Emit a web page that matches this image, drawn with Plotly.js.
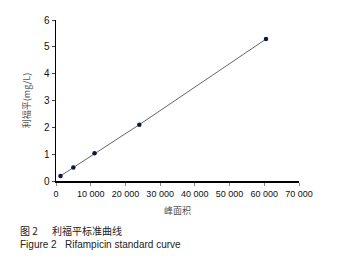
<!DOCTYPE html>
<html>
<head>
<meta charset="utf-8">
<script src="https://cdn.plot.ly/plotly-3.0.1.min.js"></script>
<style>html,body{margin:0;padding:0;background:#fff;}#chart{width:339px;height:266px;}</style>
</head>
<body>
<div id="chart"></div>
<script>
// Data
const peakArea = [1300, 5000, 11100, 24000, 60500];
const concentration = [0.19, 0.50, 1.03, 2.10, 5.29];
const xTickVals = [0, 10000, 20000, 30000, 40000, 50000, 60000, 70000];
const xTickText = ['0', '10 000', '20 000', '30 000', '40 000', '50 000', '60 000', '70 000'];
const yTickVals = [0, 1, 2, 3, 4, 5, 6];
const xTitle = '峰面积';
const yTitle = '利福平(mg/L)';
const captionCnNum = '图 2';
const captionCn = '利福平标准曲线';
const captionEnNum = 'Figure 2';
const captionEn = 'Rifampicin standard curve';

const W = 243; // plot width in px
function px(x) { return (x - 56) / W; }
const H = 161;
function py(y) { return (181 - y) / H; }

const cjk = '"Noto Sans CJK SC", "Liberation Sans", Arial, sans-serif';
const lat = '"Liberation Sans", Arial, sans-serif';

const trace = {
  x: peakArea,
  y: concentration,
  mode: 'lines+markers',
  type: 'scatter',
  line: {color: '#666', width: 1},
  marker: {color: '#0d1b3a', size: 4.5},
  hoverinfo: 'skip',
  cliponaxis: false
};

const layout = {
  width: 339,
  height: 266,
  margin: {l: 56, r: 40, t: 20, b: 85},
  paper_bgcolor: '#fff',
  plot_bgcolor: '#fff',
  showlegend: false,
  font: {family: lat, size: 9, color: '#111'},
  xaxis: {
    range: [0, 70000],
    tickvals: xTickVals,
    ticktext: xTickText,
    showgrid: false,
    zeroline: false,
    showline: true,
    linecolor: '#000',
    linewidth: 2,
    ticks: 'outside',
    ticklen: 3,
    tickcolor: '#888',
    tickfont: {family: lat, size: 9, color: '#111'},
    title: {text: xTitle, font: {family: cjk, size: 9, color: '#555'}, standoff: 10},
    fixedrange: true
  },
  yaxis: {
    range: [0, 6],
    tickvals: yTickVals,
    showgrid: false,
    zeroline: false,
    showline: true,
    linecolor: '#000',
    linewidth: 1.5,
    ticks: 'outside',
    ticklen: 3,
    tickcolor: '#444',
    tickfont: {family: lat, size: 10, color: '#111'},
    title: {text: yTitle, font: {family: cjk, size: 9, color: '#555'}, standoff: 12},
    fixedrange: true
  },
  annotations: [
    {text: captionCnNum, xref: 'paper', yref: 'paper', x: px(18), y: py(230), xanchor: 'left', yanchor: 'middle', showarrow: false, font: {family: cjk, size: 10, color: '#222'}},
    {text: captionCn, xref: 'paper', yref: 'paper', x: px(50), y: py(230), xanchor: 'left', yanchor: 'middle', showarrow: false, font: {family: cjk, size: 10, color: '#222'}},
    {text: captionEnNum, xref: 'paper', yref: 'paper', x: px(18), y: py(244), xanchor: 'left', yanchor: 'middle', showarrow: false, font: {family: lat, size: 10, color: '#222'}},
    {text: captionEn, xref: 'paper', yref: 'paper', x: px(63), y: py(244), xanchor: 'left', yanchor: 'middle', showarrow: false, font: {family: lat, size: 10, color: '#222'}}
  ]
};

Plotly.newPlot('chart', [trace], layout, {displayModeBar: false, staticPlot: true});
</script>
</body>
</html>
